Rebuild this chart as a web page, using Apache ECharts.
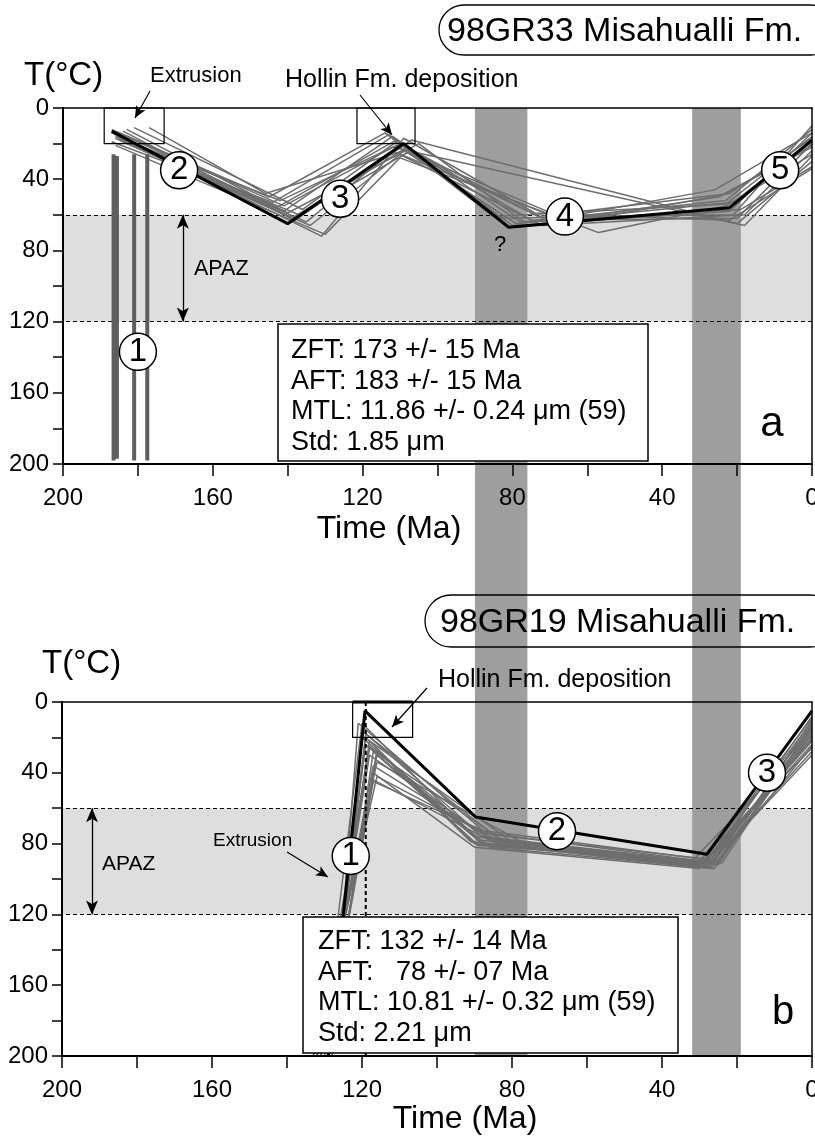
<!DOCTYPE html>
<html>
<head>
<meta charset="utf-8">
<script src="https://cdn.jsdelivr.net/npm/echarts/dist/echarts.min.js"></script>
<style>
html, body { margin: 0; padding: 0; background: #fff; }
#chart { width: 815px; height: 1138px; }
</style>
</head>
<body>
<div id="chart"></div>
<script>
// 时间 (Ma) / 温度 (°C)
var bands = [[90, 76], [32, 19]];          // 两条深灰竖带 (Ma)
var apaz = [60, 120];                       // APAZ 范围 (°C)
var xTicks = [200, 160, 120, 80, 40, 0];
var yTicks = [0, 40, 80, 120, 160, 200];

// a: 98GR33
var bestA = [[187, 13], [140, 65], [109, 20], [81, 67], [22, 56], [0, 18]];
var grayA = [
    [[187, 12], [143, 56], [111, 18], [80, 66], [22, 58], [0, 14]],
    [[186, 15], [141, 58], [112, 16], [78, 64], [23, 52], [0, 12]],
    [[185, 17], [139, 62], [108, 22], [75, 63], [20, 62], [0, 20]],
    [[181, 11], [136, 57], [111, 19], [73, 61], [22, 48], [0, 17]],
    [[177, 11], [146, 48], [109, 24], [70, 64], [25, 50], [0, 22]],
    [[187, 19], [144, 53], [113, 15], [83, 62], [21, 60], [0, 10]],
    [[186, 21], [130, 71], [110, 28], [57, 70], [23, 55], [0, 26]],
    [[184, 13], [138, 63], [107, 18], [20, 65], [0, 30]],
    [[186, 16], [142, 52], [112, 22], [18, 66], [0, 27]],
    [[185, 18], [134, 66], [110, 26], [68, 62], [26, 46], [0, 14]],
    [[183, 12], [140, 59], [105, 20], [77, 64], [19, 57], [0, 33]],
    [[187, 14], [131, 72], [109, 17], [74, 59], [22, 63], [0, 34]],
    [[186, 13], [145, 50], [114, 14], [85, 61], [23, 54], [0, 16]],
    [[184, 19], [137, 60], [108, 25], [64, 64], [24, 49], [0, 21]],
    [[185, 14], [141, 55], [111, 21], [79, 65], [21, 53], [0, 19]],
    [[186, 17], [135, 64], [112, 24], [72, 66], [18, 60], [0, 24]]
];
var dykesA = [[186.5, 26, 198], [185.6, 27, 197], [181, 26, 198], [177.5, 26, 198]];
var boxesA = [[189, 173], [121.5, 106]];
var markersA = [['1', 180, 137], ['2', 169, 35], ['3', 126, 51], ['4', 66, 61], ['5', 8.5, 35]];
var arrowA = 168;
var statsA = ['ZFT: 173 +/- 15 Ma', 'AFT: 183 +/- 15 Ma', 'MTL: 11.86 +/- 0.24 \u03bcm (59)', 'Std: 1.85 \u03bcm'];

// b: 98GR19
var bestB = [[129, 200], [119.2, 5], [89.7, 65], [28, 86], [0, 5]];
var grayB = [
    [[131, 200], [120, 12], [89, 78], [28, 92], [0, 8]],
    [[130, 200], [119, 20], [90, 80], [27, 93], [0, 12]],
    [[132, 200], [118, 25], [88, 76], [30, 90], [0, 15]],
    [[129, 200], [117, 28], [86, 82], [26, 94], [0, 18]],
    [[133, 200], [116, 42], [84, 78], [29, 91], [0, 22]],
    [[130, 200], [117, 45], [80, 80], [31, 92], [0, 26]],
    [[128, 200], [120, 16], [90, 72], [25, 90], [0, 10]],
    [[131, 200], [118, 22], [78, 82], [28, 93], [0, 30]],
    [[132, 200], [116, 30], [88, 80], [24, 91], [0, 14]],
    [[129, 200], [119, 18], [85, 75], [27, 89], [0, 20]],
    [[130, 200], [117, 40], [90, 82], [30, 94], [0, 24]],
    [[131, 200], [118, 26], [82, 79], [26, 92], [0, 17]],
    [[128, 200], [121, 12], [87, 74], [29, 90], [0, 9]],
    [[133, 200], [116, 34], [75, 82], [28, 93], [0, 28]],
    [[130, 200], [119, 24], [89, 81], [32, 90], [0, 19]],
    [[132, 200], [117, 44], [86, 78], [25, 92], [0, 13]],
    [[129, 200], [120, 20], [90, 76], [27, 91], [0, 16]],
    [[131, 200], [118, 30], [84, 80], [30, 93], [0, 21]],
    [[130, 200], [116, 27], [91, 79], [29, 92], [0, 11]],
    [[132, 200], [117, 36], [83, 81], [27, 94], [0, 25]]
];
var boxesB = [[122.5, 106.5]];
var dashedB = 119;
var markersB = [['1', 123, 87], ['2', 68, 73], ['3', 12, 40]];
var arrowB = 192;
var statsB = ['ZFT: 132 +/- 14 Ma', 'AFT:   78 +/- 07 Ma', 'MTL: 10.81 +/- 0.32 \u03bcm (59)', 'Std: 2.21 \u03bcm'];

var FONT = '"Liberation Sans", Arial, sans-serif';
var chart = echarts.init(document.getElementById('chart'));

function labelFmt(list) {
    return function (v) { return list.indexOf(v) >= 0 ? String(v) : ''; };
}

function mainX(g) {
    return {
        gridIndex: g, type: 'value', min: 0, max: 200, interval: 20, inverse: true,
        position: 'bottom', z: 10,
        axisLine: { show: true, onZero: false, lineStyle: { color: '#000', width: 2 } },
        axisTick: { show: true, length: 12, lineStyle: { color: '#000', width: 1.5 } },
        axisLabel: { margin: 22, fontSize: 24, color: '#000', fontFamily: FONT, formatter: labelFmt(xTicks) },
        splitLine: { show: false }
    };
}
function mainY(g) {
    return {
        gridIndex: g, type: 'value', min: 0, max: 200, interval: 20, inverse: true,
        position: 'left', z: 10,
        axisLine: { show: true, onZero: false, lineStyle: { color: '#000', width: 2 } },
        axisTick: { show: true, length: 10, lineStyle: { color: '#000', width: 1.5 } },
        axisLabel: { margin: 14, fontSize: 24, color: '#000', fontFamily: FONT, formatter: labelFmt(yTicks) },
        splitLine: { show: false }
    };
}
function frameAxis(g, pos) {
    return {
        gridIndex: g, type: 'value', min: 0, max: 200, inverse: true, position: pos, z: 10,
        axisLine: { show: true, onZero: false, lineStyle: { color: '#000', width: 1.5 } },
        axisTick: { show: false }, axisLabel: { show: false }, splitLine: { show: false }
    };
}

var series = [];

// 每个面板的元素
function panelSeries(g, best, gray, boxes, markers, arrowMa) {
    // APAZ 浅灰区
    series.push({
        type: 'line', xAxisIndex: g, yAxisIndex: g, data: [[100, 100]], showSymbol: false,
        lineStyle: { opacity: 0 }, z: 1, silent: true,
        markArea: { silent: true, z: 1, itemStyle: { color: '#dedede', opacity: 1 },
            data: [[{ yAxis: apaz[0] }, { yAxis: apaz[1] }]] }
    });
    // 虚线 + APAZ 双箭头 + 约束框
    series.push({
        type: 'line', xAxisIndex: g, yAxisIndex: g, data: [[100, 100]], showSymbol: false,
        lineStyle: { opacity: 0 }, z: 3, silent: true,
        markLine: {
            silent: true, z: 3, symbol: ['none', 'none'], label: { show: false },
            lineStyle: { color: '#000', width: 1, type: [4, 3] },
            data: [{ yAxis: apaz[0] }, { yAxis: apaz[1] },
                [{ coord: [arrowMa, apaz[0]], symbol: 'arrow', symbolSize: [9, 14], lineStyle: { type: 'solid', width: 1.3 } },
                 { coord: [arrowMa, apaz[1]], symbol: 'arrow', symbolSize: [9, 14] }]]
        },
        markArea: {
            silent: true, z: 4,
            itemStyle: { color: 'rgba(0,0,0,0)', borderColor: '#000', borderWidth: 1.2 },
            data: boxes.map(function (b) { return [{ coord: [b[0], 0] }, { coord: [b[1], 20] }]; })
        }
    });
    gray.forEach(function (p) {
        series.push({
            type: 'line', xAxisIndex: g, yAxisIndex: g, data: p, showSymbol: false, silent: true,
            lineStyle: { color: '#6e6e6e', width: 1.5 }, z: 3
        });
    });
    series.push({
        type: 'line', xAxisIndex: g, yAxisIndex: g, data: best, showSymbol: false, silent: true,
        lineStyle: { color: '#000', width: 3 }, z: 4
    });
    series.push({
        type: 'scatter', xAxisIndex: g, yAxisIndex: g, z: 6, silent: true,
        symbol: 'circle', symbolSize: 37,
        itemStyle: { color: '#fff', borderColor: '#000', borderWidth: 1.5, opacity: 1 },
        label: { show: true, position: 'inside', formatter: '{b}', fontSize: 33, color: '#000', fontFamily: FONT },
        data: markers.map(function (m) { return { name: m[0], value: [m[1], m[2]] }; })
    });
}

// 深灰竖带, 贯穿两个面板
series.push({
    type: 'line', xAxisIndex: 4, yAxisIndex: 4, data: [[100, 0.5]], showSymbol: false,
    lineStyle: { opacity: 0 }, z: 2, silent: true,
    markArea: { silent: true, z: 2, itemStyle: { color: '#9e9e9e', opacity: 1 },
        data: bands.map(function (b) { return [{ xAxis: b[0] }, { xAxis: b[1] }]; }) }
});

panelSeries(0, bestA, grayA, boxesA, markersA, arrowA);
panelSeries(1, bestB, grayB, boxesB, markersB, arrowB);

// a: 岩墙
dykesA.forEach(function (d) {
    series.push({
        type: 'line', xAxisIndex: 0, yAxisIndex: 0, data: [[d[0], d[1]], [d[0], d[2]]],
        showSymbol: false, silent: true, lineStyle: { color: '#5e5e5e', width: 4 }, z: 3
    });
});

// b: 竖直虚线 + Hollin 框上边加粗
series.push({
    type: 'line', xAxisIndex: 1, yAxisIndex: 1, data: [[dashedB, 0], [dashedB, 200]],
    showSymbol: false, silent: true, lineStyle: { color: '#000', width: 2, type: [4, 3] }, z: 5
});
series.push({
    type: 'line', xAxisIndex: 1, yAxisIndex: 1, data: [[boxesB[0][0], 0], [boxesB[0][1], 0]],
    showSymbol: false, silent: true, clip: false, lineStyle: { color: '#000', width: 3 }, z: 5
});

// 注释箭头 (像素坐标)
series.push({
    type: 'line', xAxisIndex: 0, yAxisIndex: 0, data: [[100, 100]], showSymbol: false,
    lineStyle: { opacity: 0 }, z: 7, silent: true,
    markLine: {
        silent: true, z: 7, symbol: ['none', 'arrow'], symbolSize: [8, 12], label: { show: false },
        lineStyle: { color: '#000', width: 1.2, type: 'solid' },
        data: [
            [{ x: 150, y: 91 }, { x: 135, y: 118 }],
            [{ x: 360, y: 95 }, { x: 392, y: 135 }],
            [{ x: 427, y: 688 }, { x: 392, y: 727 }],
            [{ x: 287, y: 852 }, { x: 328, y: 877 }]
        ]
    }
});

function txt(text, x, y, size, align) {
    return {
        type: 'text', z: 60, silent: true,
        style: { text: text, x: x, y: y, fill: '#000', font: size + 'px ' + FONT,
            textAlign: align || 'left', textVerticalAlign: 'middle', align: align || 'left', verticalAlign: 'middle' }
    };
}

var graphics = [
    // 标题框
    { type: 'rect', z: 60, silent: true, shape: { x: 439, y: 5, width: 397, height: 50, r: 25 },
      style: { fill: 'rgba(0,0,0,0)', stroke: '#000', lineWidth: 1.3 } },
    txt('98GR33 Misahualli Fm.', 447, 32, 34),
    { type: 'rect', z: 60, silent: true, shape: { x: 425, y: 595, width: 411, height: 52, r: 26 },
      style: { fill: 'rgba(0,0,0,0)', stroke: '#000', lineWidth: 1.3 } },
    txt('98GR19 Misahualli Fm.', 440, 623, 34),
    // 轴标题
    txt('T(\u00b0C)', 24, 76, 33),
    txt('T(\u00b0C)', 42, 664, 33),
    txt('Time (Ma)', 389, 529, 32, 'center'),
    txt('Time (Ma)', 465, 1119, 32, 'center'),
    // 注释
    txt('Extrusion', 150, 76, 22),
    txt('Hollin Fm. deposition', 285, 80, 25),
    txt('Hollin Fm. deposition', 438, 680, 25),
    txt('Extrusion', 213, 841, 19),
    txt('APAZ', 194, 269, 21.5),
    txt('APAZ', 102, 864, 21),
    txt('?', 500, 245, 22, 'center'),
    txt('a', 772, 424, 42, 'center'),
    txt('b', 783, 1013, 40, 'center'),
    // 统计框
    { type: 'rect', z: 55, silent: true, shape: { x: 278, y: 324, width: 370, height: 137 },
      style: { fill: '#fff', stroke: '#000', lineWidth: 1.5 } },
    { type: 'rect', z: 55, silent: true, shape: { x: 303, y: 917, width: 375, height: 136 },
      style: { fill: '#fff', stroke: '#000', lineWidth: 1.5 } }
];
statsA.forEach(function (s, i) { graphics.push(txt(s, 291, 351 + i * 30.5, 27)); });
statsB.forEach(function (s, i) { graphics.push(txt(s, 318, 942 + i * 30.5, 27)); });

var option = {
    backgroundColor: '#fff',
    animation: false,
    grid: [
        { left: 63, top: 108, width: 749, height: 356, outerBoundsMode: 'none' },
        { left: 62, top: 702, width: 750, height: 354, outerBoundsMode: 'none' },
        { left: 63, top: 108, width: 749, height: 948, outerBoundsMode: 'none' }
    ],
    xAxis: [
        mainX(0), mainX(1), frameAxis(0, 'top'), frameAxis(1, 'top'),
        { gridIndex: 2, type: 'value', min: 0, max: 200, inverse: true, show: false }
    ],
    yAxis: [
        mainY(0), mainY(1), frameAxis(0, 'right'), frameAxis(1, 'right'),
        { gridIndex: 2, type: 'value', min: 0, max: 1, show: false }
    ],
    graphic: graphics,
    series: series
};

chart.setOption(option);
</script>
</body>
</html>
